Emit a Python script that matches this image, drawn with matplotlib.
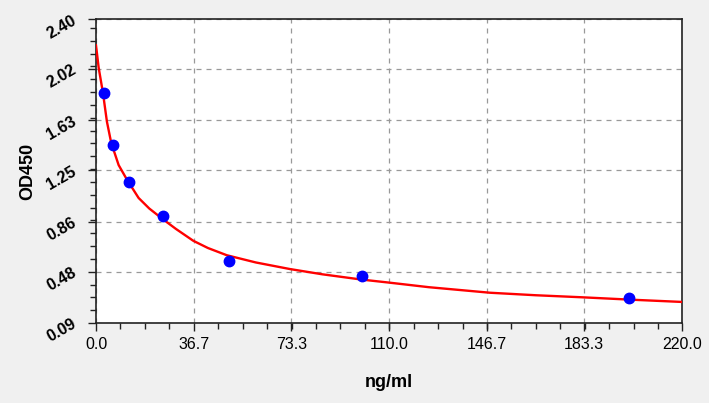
import numpy as np
import matplotlib.pyplot as plt
from matplotlib.ticker import AutoMinorLocator

# standard points
conc = [3.125, 6.25, 12.5, 25, 50, 100, 200]
od = [1.835, 1.443, 1.164, 0.903, 0.559, 0.447, 0.278]

# fitted curve
curve_x = [0, 1.0, 2.6, 4.1, 5.7, 8.5, 11.6, 16.0, 20, 24.7, 30, 36.5, 42, 49.1, 60, 72.8, 85,
           99.7, 110, 125, 147.9, 165, 182.9, 200, 220]
curve_y = [2.20, 2.03, 1.84, 1.62, 1.46, 1.29, 1.18, 1.04, 0.96, 0.885, 0.805, 0.715, 0.66, 0.605, 0.55, 0.50, 0.46,
           0.42, 0.397, 0.362, 0.32, 0.301, 0.285, 0.268, 0.25]

xticks = [0.0, 36.7, 73.3, 110.0, 146.7, 183.3, 220.0]
yticks = [0.09, 0.48, 0.86, 1.25, 1.63, 2.02, 2.40]

fig = plt.figure(figsize=(7.09, 4.03), dpi=100, facecolor="#f0f0f0")
ax = fig.add_axes([96/709, 80/403, 586/709, 304/403])
ax.set_facecolor("white")

ax.plot(curve_x, curve_y, "-", color="#ff0000", linewidth=1.7, zorder=3, solid_joinstyle="round")
ax.plot(conc, od, "o", color="#0000ff", markersize=7.5, zorder=4)

ax.set_xlim(0, 220)
ax.set_ylim(0.09, 2.40)
ax.set_xticks(xticks)
ax.set_yticks(yticks)
ax.set_xticklabels(["%.1f" % v for v in xticks], family=["Liberation Sans Narrow", "Liberation Sans"], fontsize=11.5)
ax.set_yticklabels(["%.2f" % v for v in yticks], family="Liberation Sans", fontsize=11.5, fontweight="bold",
                   rotation=30, ha="right", va="center", rotation_mode="anchor")
ax.xaxis.set_minor_locator(AutoMinorLocator(4))
ax.yaxis.set_minor_locator(AutoMinorLocator(4))
ax.tick_params(which="major", length=6, width=1, color="#222222", pad=4)
ax.tick_params(which="minor", length=4, width=1, color="#222222")
ax.tick_params(axis="y", which="major", pad=9)

ax.grid(True, which="major", linestyle=(0, (4, 4)), color="#999999", linewidth=0.9)
for s in ax.spines.values():
    s.set_color("#222222")
    s.set_linewidth(1.2)

ax.set_xlabel("ng/ml", family="Liberation Sans", fontsize=13, fontweight="bold", labelpad=16)
ax.set_ylabel("OD450", family="Liberation Sans", fontsize=13, fontweight="bold", labelpad=6)

plt.savefig("out.png", dpi=100, facecolor=fig.get_facecolor())
